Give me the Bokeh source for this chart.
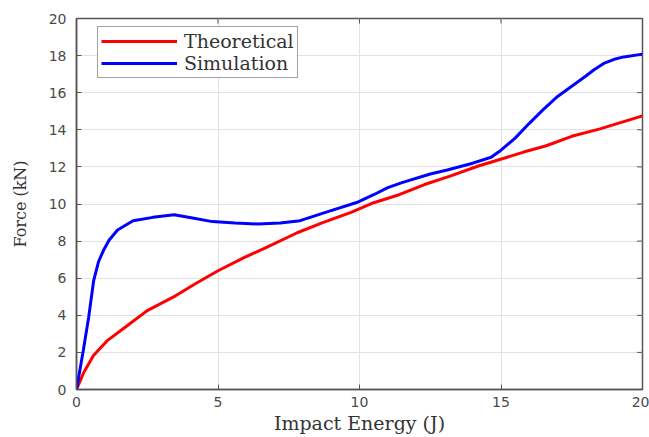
from bokeh.plotting import figure
from bokeh.models import Range1d, FixedTicker, Legend, LegendItem
from bokeh.embed import file_html
from bokeh.resources import INLINE

# Data
theo_x = [0, 0.26, 0.6, 1.1, 1.8, 2.5, 3.5, 4.2, 5.0, 5.9, 6.6, 7.8, 8.7, 9.7,
          10.5, 11.4, 12.3, 13.2, 14.2, 14.9, 15.8, 16.6, 17.5, 18.5, 20.0]
theo_y = [0, 0.93, 1.83, 2.65, 3.45, 4.25, 5.05, 5.7, 6.4, 7.1, 7.58, 8.45, 9.0, 9.55,
          10.07, 10.5, 11.05, 11.5, 12.05, 12.37, 12.8, 13.14, 13.65, 14.05, 14.75]

sim_x = [0, 0.24, 0.43, 0.61, 0.78, 0.97, 1.15, 1.45, 2.0, 2.7, 3.45, 4.1, 4.8, 5.6,
         6.4, 7.2, 7.9, 8.8, 9.9, 10.5, 11.0, 11.5, 12.5, 13.1, 14.0, 14.65, 15.0,
         15.5, 16.0, 16.5, 17.0, 17.5, 18.0, 18.3, 18.63, 19.0, 19.34, 20.0]
sim_y = [0, 2.1, 3.9, 5.9, 6.9, 7.55, 8.05, 8.6, 9.1, 9.28, 9.42, 9.25, 9.05, 8.98,
         8.92, 8.97, 9.1, 9.55, 10.08, 10.5, 10.88, 11.15, 11.62, 11.83, 12.2, 12.52, 12.9,
         13.55, 14.35, 15.1, 15.8, 16.35, 16.9, 17.25, 17.58, 17.8, 17.93, 18.08]

x_ticks = [0, 5, 10, 15, 20]
y_ticks = [0, 2, 4, 6, 8, 10, 12, 14, 16, 18, 20]

axis_col = "#555555"
text_col = "#4a4a4a"

p = figure(width=649, height=437, output_backend="svg", toolbar_location=None,
           x_range=Range1d(0, 20), y_range=Range1d(0, 20),
           min_border_left=76, min_border_right=7, min_border_top=18, min_border_bottom=48)

p.outline_line_color = axis_col
p.outline_line_width = 1.5
p.background_fill_color = "white"
p.border_fill_color = "white"

for ax, ticks in ((p.xaxis[0], x_ticks), (p.yaxis[0], y_ticks)):
    ax.ticker = FixedTicker(ticks=ticks)
    ax.minor_tick_line_color = None
    ax.major_tick_in = 5
    ax.major_tick_out = 0
    ax.axis_line_color = axis_col
    ax.axis_line_width = 1.5
    ax.major_tick_line_color = axis_col
    ax.major_label_text_font = "DejaVu Sans"
    ax.major_label_text_font_size = "14px"
    ax.major_label_text_color = text_col
    ax.axis_label_text_font = "DejaVu Serif"
    ax.axis_label_text_font_style = "normal"
    ax.axis_label_text_color = "#333333"

p.xaxis.axis_label = "Impact Energy (J)"
p.xaxis.axis_label_text_font_size = "19px"
p.xaxis.major_label_standoff = 7
p.xaxis.axis_label_standoff = 2

p.yaxis.axis_label = "Force (kN)"
p.yaxis.axis_label_text_font_size = "16px"
p.yaxis.major_label_standoff = 10
p.yaxis.axis_label_standoff = 16

p.xgrid.ticker = FixedTicker(ticks=x_ticks)
p.ygrid.ticker = FixedTicker(ticks=y_ticks)
p.xgrid.grid_line_color = "#e2e2e2"
p.ygrid.grid_line_color = "#e2e2e2"

# Box ticks on the top and right edges (from the tick lists, at the range ends)
xmax, ymax = p.x_range.end, p.y_range.end
tick_len_x = 0.19   # ~5 px in data units
tick_len_y = 0.27   # ~5 px in data units
p.segment(x0=x_ticks, y0=[ymax] * len(x_ticks), x1=x_ticks,
          y1=[ymax - tick_len_y] * len(x_ticks), line_color=axis_col, line_width=1)
p.segment(x0=[xmax] * len(y_ticks), y0=y_ticks, x1=[xmax - tick_len_x] * len(y_ticks),
          y1=y_ticks, line_color=axis_col, line_width=1)

r1 = p.line(theo_x, theo_y, line_color="#ff0000", line_width=3)
r2 = p.line(sim_x, sim_y, line_color="#0000ff", line_width=3)

legend = Legend(items=[LegendItem(label="Theoretical", renderers=[r1]),
                       LegendItem(label="Simulation", renderers=[r2])],
                location=(21, 311), margin=0, padding=3, spacing=0,
                glyph_width=76, glyph_height=20, label_height=20, label_standoff=7,
                label_text_font="DejaVu Serif", label_text_font_size="19px",
                label_text_color="#333333",
                border_line_color="#444444", border_line_width=1.5,
                background_fill_color="white", background_fill_alpha=1.0)
p.add_layout(legend)

open("out.html", "w").write(file_html(p, INLINE))
